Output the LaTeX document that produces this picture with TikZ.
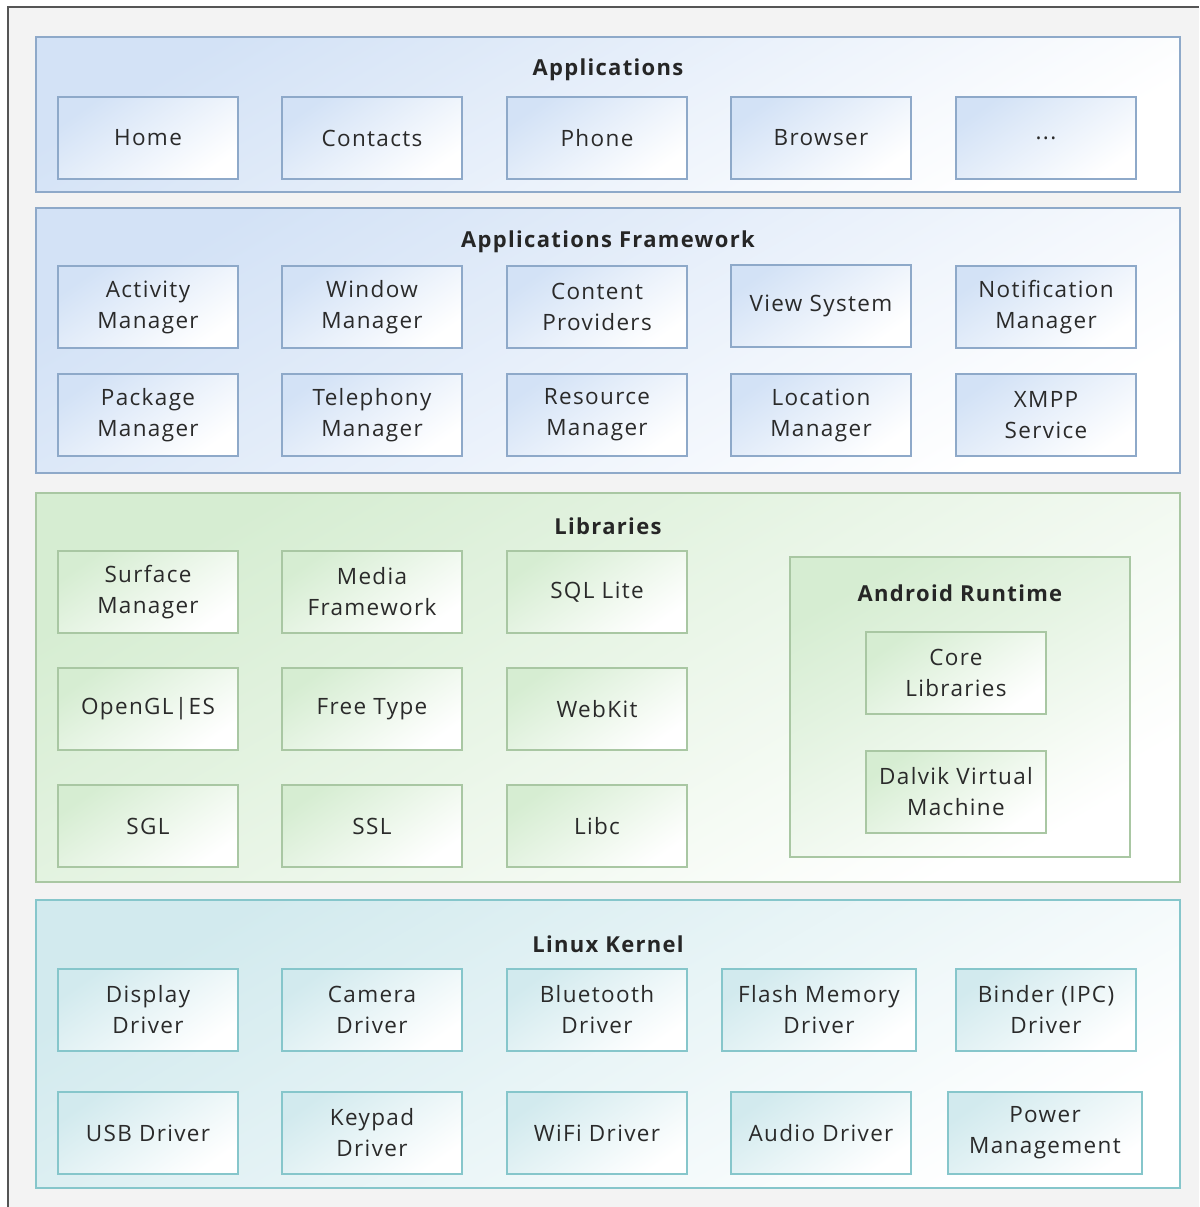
\documentclass[tikz,border=0pt]{standalone}
\usepackage{fontspec}
\setmainfont[LetterSpace=6]{Open Sans}
\definecolor{bgray}{HTML}{F3F3F3}
\definecolor{frameline}{HTML}{555555}
\definecolor{txt}{HTML}{2A2A2A}
\definecolor{blueline}{HTML}{8EA9C9}
\definecolor{bluefill}{HTML}{D3E2F6}
\definecolor{greenline}{HTML}{A9C7A3}
\definecolor{greenfill}{HTML}{D6EDD2}
\definecolor{tealline}{HTML}{86C6CB}
\definecolor{tealfill}{HTML}{D2EAEE}
\tikzset{
  layerbox/.style={draw=#1line, line width=1.2pt, top color=#1fill, bottom color=white, shading angle=30},
  itembox/.style={draw=#1line, line width=1.2pt, top color=#1fill, bottom color=white, shading angle=35,
    minimum width=180pt, minimum height=82pt, inner sep=0pt, align=center, text=txt,
    font=\fontsize{22.5}{31}\selectfont},
  titletext/.style={text=black!85, font=\fontsize{22}{28}\selectfont\bfseries, inner sep=0pt}
}
\begin{document}
\begin{tikzpicture}[x=1pt,y=-1pt]
\useasboundingbox (0,0) rectangle (1199,1207);
\fill[white] (0,0) rectangle (1199,1207);
\fill[bgray] (8,7) rectangle (1199,1207);
\draw[frameline, line width=1.5pt] (8,1207) -- (8,7) -- (1199,7);

% layers
\draw[layerbox=blue] (36,37) rectangle (1180,192);
\draw[layerbox=blue] (36,208) rectangle (1180,473);
\draw[layerbox=green] (36,493) rectangle (1180,882);
\draw[layerbox=teal] (36,900) rectangle (1180,1188);
\draw[layerbox=green] (790,557) rectangle (1130,857);

% titles
\node[titletext] (tApps) at (608,70) {Applications};
\node[titletext] (tFw) at (608,242) {Applications Framework};
\node[titletext] (tLib) at (608,526) {Libraries};
\node[titletext] (tRt) at (960,593) {Android Runtime};
\node[titletext] (tKer) at (608,944) {Linux Kernel};

% applications
\node[itembox=blue] (home) at (148,138) {Home};
\node[itembox=blue] (contacts) at (372,138) {Contacts};
\node[itembox=blue] (phone) at (597,138) {Phone};
\node[itembox=blue] (browser) at (821,138) {Browser};
\node[itembox=blue] (more) at (1046,138) {...};

% framework
\node[itembox=blue] (actm) at (148,307) {Activity\\Manager};
\node[itembox=blue] (winm) at (372,307) {Window\\Manager};
\node[itembox=blue] (cont) at (597,307) {Content\\Providers};
\node[itembox=blue] (views) at (821,306) {View System};
\node[itembox=blue] (notm) at (1046,307) {Notification\\Manager};
\node[itembox=blue] (pkgm) at (148,415) {Package\\Manager};
\node[itembox=blue] (telm) at (372,415) {Telephony\\Manager};
\node[itembox=blue] (resm) at (597,415) {Resource\\Manager};
\node[itembox=blue] (locm) at (821,415) {Location\\Manager};
\node[itembox=blue] (xmpp) at (1046,415) {XMPP\\Service};

% libraries
\node[itembox=green] (surf) at (148,592) {Surface\\Manager};
\node[itembox=green] (media) at (372,592) {Media\\Framework};
\node[itembox=green] (sql) at (597,592) {SQL Lite};
\node[itembox=green] (ogl) at (148,709) {OpenGL|ES};
\node[itembox=green] (ftype) at (372,709) {Free Type};
\node[itembox=green] (webkit) at (597,709) {WebKit};
\node[itembox=green] (sgl) at (148,826) {SGL};
\node[itembox=green] (ssl) at (372,826) {SSL};
\node[itembox=green] (libc) at (597,826) {Libc};
\node[itembox=green] (core) at (956,673) {Core\\Libraries};
\node[itembox=green] (dalvik) at (956,792) {Dalvik Virtual\\Machine};

% kernel
\node[itembox=teal] (disp) at (148,1010) {Display\\Driver};
\node[itembox=teal] (cam) at (372,1010) {Camera\\Driver};
\node[itembox=teal] (bt) at (597,1010) {Bluetooth\\Driver};
\node[itembox=teal, minimum width=194pt] (flash) at (819,1010) {Flash Memory\\Driver};
\node[itembox=teal] (binder) at (1046,1010) {Binder (IPC)\\Driver};
\node[itembox=teal] (usb) at (148,1133) {USB Driver};
\node[itembox=teal] (keypad) at (372,1133) {Keypad\\Driver};
\node[itembox=teal] (wifi) at (597,1133) {WiFi Driver};
\node[itembox=teal] (audio) at (821,1133) {Audio Driver};
\node[itembox=teal, minimum width=194pt] (power) at (1045,1133) {Power\\Management};
\end{tikzpicture}
\end{document}
